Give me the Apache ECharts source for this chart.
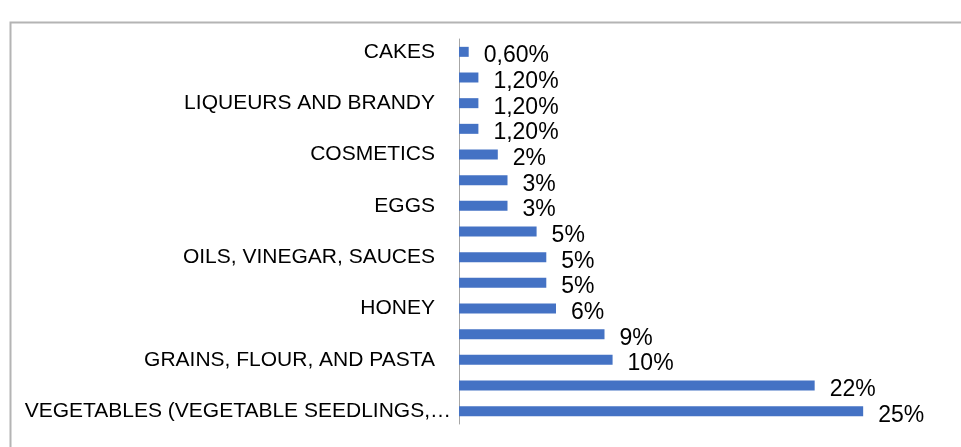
<!DOCTYPE html>
<html>
<head>
<meta charset="utf-8">
<script src="https://cdn.jsdelivr.net/npm/echarts@6/dist/echarts.min.js"></script>
<style>
    html, body { margin: 0; padding: 0; background: #fff; }
    #chart { width: 961px; height: 447px; }
</style>
</head>
<body>
<div id="chart"></div>
<script>
    // categories top to bottom; every other name is hidden in the original
    var categories = ['CAKES', '', 'LIQUEURS AND BRANDY', '', 'COSMETICS', '', 'EGGS', '',
        'OILS, VINEGAR, SAUCES', '', 'HONEY', '', 'GRAINS, FLOUR, AND PASTA', '',
        'VEGETABLES (VEGETABLE SEEDLINGS,\u2026'];
    // bar lengths (%)
    var values = [0.6, 1.2, 1.2, 1.2, 2.4, 3, 3, 4.8, 5.4, 5.4, 6, 9, 9.5, 22, 25];
    // data labels as printed
    var labels = ['0,60%', '1,20%', '1,20%', '1,20%', '2%', '3%', '3%', '5%', '5%', '5%',
        '6%', '9%', '10%', '22%', '25%'];

    var myChart = echarts.init(document.getElementById('chart'));
    var fontFam = 'Liberation Sans, Arial, sans-serif';

    // the truncated last label sits closer to the axis
    var catData = categories.map(function (c, i) {
        if (i === categories.length - 1) {
            return { value: c, textStyle: { padding: [0, -16, 0, 0] } };
        }
        return c;
    });

    myChart.setOption({
        animation: false,
        graphic: [{
            type: 'rect',
            left: 8, top: 20,
            shape: { width: 1000, height: 500 },
            style: { fill: 'none', stroke: '#b4b4b4', lineWidth: 2 },
            z: -1
        }],
        grid: { left: 459, right: 17, top: 39, bottom: 23 },
        xAxis: {
            type: 'value', min: 0, max: 30, show: false
        },
        yAxis: {
            type: 'category',
            inverse: true,
            data: catData,
            axisLine: { lineStyle: { color: '#a6a6a6', width: 1 } },
            axisTick: { show: false },
            axisLabel: {
                interval: 0,
                margin: 24,
                color: '#000',
                fontFamily: fontFam,
                fontSize: 21
            }
        },
        series: [{
            type: 'bar',
            barWidth: 10,
            itemStyle: { color: '#4472C4' },
            label: {
                show: true,
                position: 'right',
                distance: 15,
                offset: [0, 4],
                color: '#000',
                fontFamily: fontFam,
                fontSize: 23,
                formatter: function (p) { return labels[p.dataIndex]; }
            },
            data: values
        }]
    });
</script>
</body>
</html>
